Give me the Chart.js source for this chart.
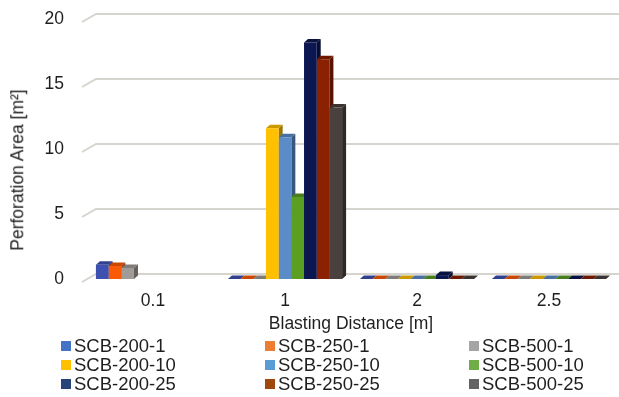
<!DOCTYPE html>
<html>
<head>
<meta charset="utf-8">
<script src="https://cdn.jsdelivr.net/npm/chart.js@4.4.1/dist/chart.umd.min.js"></script>
<style>
  body { margin: 0; background: #fff; }
  #wrap { position: relative; width: 619px; height: 397px; font-family: "Liberation Sans", Arial, sans-serif; color: #1f1f1f; }
  #chart { position: absolute; left: 0; top: 0; }
  #ytitle {
    position: absolute; left: 17.5px; top: 170px;
    transform: translate(-50%, -50%) rotate(-90deg);
    white-space: nowrap; font-size: 17.5px; line-height: 1;
  }
  #legend {
    position: absolute; left: 61px; top: 336px;
    display: grid; grid-template-columns: 204px 204px 150px; grid-auto-rows: 19px;
    font-size: 18.5px;
  }
  #legend .item { display: flex; align-items: center; white-space: nowrap; }
  #legend .box { width: 10px; height: 10px; margin-right: 3px; }
</style>
</head>
<body>
<div id="wrap">
  <canvas id="chart" width="619" height="397"></canvas>
  <div id="ytitle">Perforation Area [m²]</div>
  <div id="legend"></div>
</div>
<script>
// data
const categories = ["0.1", "1", "2", "2.5"];
const seriesNames = [
  "SCB-200-1", "SCB-250-1", "SCB-500-1",
  "SCB-200-10", "SCB-250-10", "SCB-500-10",
  "SCB-200-25", "SCB-250-25", "SCB-500-25",
];
const scb200_1 = [1.1, 0, 0, 0];
const scb250_1 = [1.0, 0, 0, 0];
const scb500_1 = [0.85, 0, 0, 0];
const scb200_10 = [null, 11.6, 0, 0];
const scb250_10 = [null, 10.9, 0, 0];
const scb500_10 = [null, 6.3, 0, 0];
const scb200_25 = [null, 18.2, 0.3, 0];
const scb250_25 = [null, 16.9, 0, 0];
const scb500_25 = [null, 13.2, 0, 0];
const yMin = 0;
const yMax = 20;
const yStep = 5;

const seriesValues = [
  scb200_1, scb250_1, scb500_1,
  scb200_10, scb250_10, scb500_10,
  scb200_25, scb250_25, scb500_25,
];

// colours: bar front faces and legend markers
const barColors = [
  "#3f51b0", "#fa5a05", "#a09b97",
  "#ffc000", "#5b8cc8", "#5a9e22",
  "#0c1650", "#8b2100", "#4a403e",
];
const legendColors = [
  "#4472c4", "#ed7d31", "#a5a5a5",
  "#ffc000", "#5b9bd5", "#70ad47",
  "#264478", "#9e480e", "#636363",
];

const FONT = "'Liberation Sans', Arial, sans-serif";
const TEXT = "#1f1f1f";
const DX = 4, DY = 3.5; // depth of the fake 3d

function shade(hex, f) {
  const n = parseInt(hex.slice(1), 16);
  const r = Math.round(((n >> 16) & 255) * f);
  const g = Math.round(((n >> 8) & 255) * f);
  const b = Math.round((n & 255) * f);
  return `rgb(${r},${g},${b})`;
}

// back-wall gridlines with the little slanted floor edge on the left
const wallGrid = {
  id: "wallGrid",
  beforeDatasetsDraw(chart) {
    const { ctx, chartArea } = chart;
    const y = chart.scales.y;
    ctx.save();
    ctx.strokeStyle = "#d6d4ce";
    ctx.lineWidth = 2;
    y.ticks.forEach((t) => {
      const py = y.getPixelForValue(t.value);
      ctx.beginPath();
      ctx.moveTo(chartArea.left - 5, py + 3);
      ctx.lineTo(chartArea.left + 9, py - 5);
      ctx.lineTo(chart.width, py - 5);
      ctx.stroke();
    });
    ctx.restore();
  },
};

// side and top faces, drawn before the library paints the fronts
const depth3d = {
  id: "depth3d",
  beforeDatasetsDraw(chart) {
    const ctx = chart.ctx;
    chart.data.datasets.forEach((ds, di) => {
      const meta = chart.getDatasetMeta(di);
      meta.data.forEach((bar, i) => {
        if (ds.data[i] === null) return;
        const { x, y, base, width } = bar.getProps(["x", "y", "base", "width"], true);
        const l = x - width / 2, r = x + width / 2;
        ctx.save();
        ctx.fillStyle = shade(barColors[di], 0.62);
        ctx.beginPath();
        ctx.moveTo(r, base);
        ctx.lineTo(r + DX, base - DY);
        ctx.lineTo(r + DX, y - DY);
        ctx.lineTo(r, y);
        ctx.closePath();
        ctx.fill();
        ctx.fillStyle = shade(barColors[di], 0.8);
        ctx.beginPath();
        ctx.moveTo(l, y);
        ctx.lineTo(l + DX, y - DY);
        ctx.lineTo(r + DX, y - DY);
        ctx.lineTo(r, y);
        ctx.closePath();
        ctx.fill();
        ctx.restore();
      });
    });
  },
};

const datasets = seriesNames.map((name, i) => ({
  label: name,
  data: seriesValues[i],
  backgroundColor: barColors[i],
  borderWidth: 0,
  categoryPercentage: 0.865,
  barPercentage: 1.0,
}));

const ctx = document.getElementById("chart");
const chart = new Chart(ctx, {
  type: "bar",
  data: { labels: categories, datasets: datasets },
  options: {
    responsive: false,
    animation: false,
    layout: { padding: { top: 19, right: 4, bottom: 62, left: 0 } },
    plugins: {
      legend: { display: false },
      tooltip: { enabled: false },
    },
    scales: {
      x: {
        grid: { display: false, drawTicks: false },
        border: { display: false },
        ticks: { color: TEXT, font: { family: FONT, size: 17.5 }, padding: 12 },
        title: {
          display: true,
          text: "Blasting Distance [m]",
          color: TEXT,
          font: { family: FONT, size: 17.5 },
          padding: { top: 2, bottom: 0 },
        },
        afterFit(scale) {
          scale.height = 56;
        },
      },
      y: {
        min: yMin,
        max: yMax,
        grid: { display: false, drawTicks: false },
        border: { display: false },
        ticks: { stepSize: yStep, color: TEXT, font: { family: FONT, size: 17.5 }, padding: 23 },
        // axis title is the #ytitle div, it sits lower than the scale centre
        afterFit(scale) {
          scale.width = 87;
          scale.paddingTop = 0;
          scale.paddingBottom = 0;
        },
      },
    },
  },
  plugins: [wallGrid, depth3d],
});

// legend, three columns like the original
const legendEl = document.getElementById("legend");
chart.data.datasets.forEach((ds, i) => {
  const item = document.createElement("div");
  item.className = "item";
  const box = document.createElement("span");
  box.className = "box";
  box.style.background = legendColors[i];
  const txt = document.createElement("span");
  txt.textContent = ds.label;
  item.appendChild(box);
  item.appendChild(txt);
  legendEl.appendChild(item);
});
</script>
</body>
</html>
